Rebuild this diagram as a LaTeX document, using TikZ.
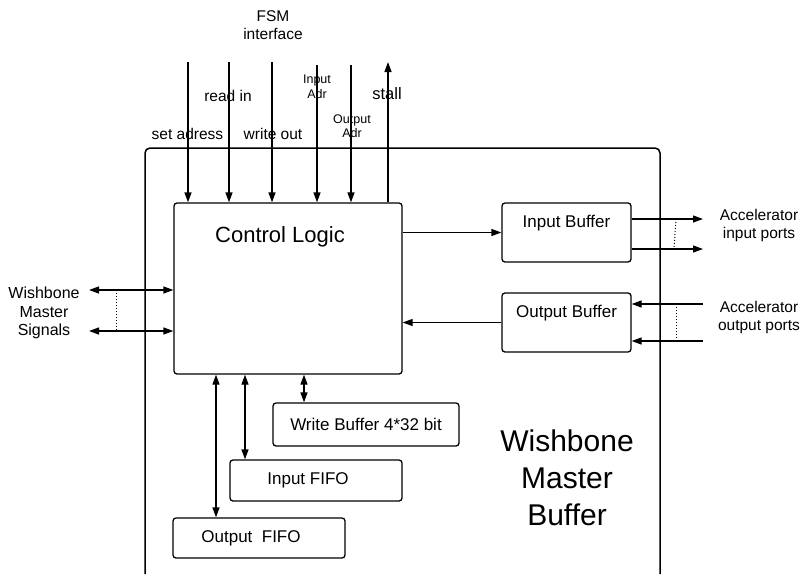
\documentclass[tikz,border=0pt]{standalone}
\usepackage{fontspec}
\setmainfont{Liberation Sans}
\usepackage{tikz}
\usetikzlibrary{positioning,arrows.meta}

\begin{document}
\begin{tikzpicture}[
  x=1pt, y=-1pt,
  blk/.style={draw, rounded corners=3pt, line width=1.3pt, inner sep=0pt},
  lbl/.style={font=\fontsize{17}{20}\selectfont, align=center},
  sig/.style={font=\fontsize{15.5}{18}\selectfont, align=center},
  tiny/.style={font=\fontsize{12.5}{14.5}\selectfont, align=center},
  arr/.style={-{Triangle[length=10pt,width=7pt]}, line width=1.3pt},
  dbl/.style={{Triangle[length=10pt,width=7pt]}-{Triangle[length=10pt,width=7pt]}, line width=1.3pt},
  dot/.style={dotted, line width=1pt}
]
  \useasboundingbox (0,0) rectangle (802,574);

  % outer buffer frame (runs off the bottom)
  \draw[line width=1.5pt, rounded corners=5pt] (145,574) |- (660,148) -- (660,574);
  \node[font=\fontsize{30}{37}\selectfont, align=center] (wmb) at (567,478) {Wishbone\\Master\\Buffer};

  % blocks
  \node[blk, minimum width=228, minimum height=171] (ctrl) at (288,288.5) {};
  \node[font=\fontsize{22}{26}\selectfont] (ctrltxt) at (280,237) {Control Logic};
  \node[blk, minimum width=129, minimum height=59,
        label={[lbl, yshift=9pt]center:Input Buffer}] (inbuf) at (566.5,232.5) {};
  \node[blk, minimum width=129, minimum height=59,
        label={[lbl, yshift=9pt]center:Output Buffer}] (outbuf) at (566.5,322.5) {};
  \node[blk, lbl, minimum width=186, minimum height=43] (wrbuf) at (366,424.5) {Write Buffer 4*32 bit};
  \node[blk, minimum width=172, minimum height=41,
        label={[lbl, xshift=-8pt]center:Input FIFO}] (infifo) at (316,480.5) {};
  \node[blk, minimum width=172, minimum height=40,
        label={[lbl, xshift=-8pt]center:Output\ \ FIFO}] (outfifo) at (259,538) {};

  % FSM interface
  \node[sig] (fsm) at (273,25) {FSM\\interface};
  \coordinate (setadr) at (188,62);
  \coordinate (readin) at (229,62);
  \coordinate (wrout) at (272,62);
  \coordinate (inadr) at (317,65);
  \coordinate (outadr) at (351,65);
  \coordinate (stall) at (388,62);
  \draw[arr] (setadr) -- (setadr |- ctrl.north);
  \draw[arr] (readin) -- (readin |- ctrl.north);
  \draw[arr] (wrout) -- (wrout |- ctrl.north);
  \draw[arr] (inadr) -- (inadr |- ctrl.north);
  \draw[arr] (outadr) -- (outadr |- ctrl.north);
  \draw[arr] (stall |- ctrl.north) -- (stall);
  \node[sig] (setadrtxt) at (187.5,134) {set adress};
  \node[sig] (readintxt) at (228,96) {read in};
  \node[sig] (wrouttxt) at (273,134) {write out};
  \node[tiny] (inadrtxt) at (317,87) {Input\\Adr};
  \node[tiny] (outadrtxt) at (352,126) {Output\\Adr};
  \node[font=\fontsize{16.5}{19}\selectfont] (stalltxt) at (387,94) {stall};

  % wishbone side
  \node[font=\fontsize{16}{18.5}\selectfont, align=center] (wbtxt) at (44,313) {Wishbone\\Master\\Signals};
  \coordinate (wb1) at (89,290);
  \coordinate (wb2) at (89,331);
  \draw[dbl] (wb1) -- (wb1 -| ctrl.west);
  \draw[dbl] (wb2) -- (wb2 -| ctrl.west);
  \draw[dot] ([xshift=27pt]wb1) -- ([xshift=27pt]wb2);

  % buffers
  \draw[arr] (ctrl.east |- inbuf.west) -- (inbuf.west);
  \draw[arr] (outbuf.west) -- (outbuf.west -| ctrl.east);

  % accelerator ports
  \coordinate (ip1) at (703,219);
  \coordinate (ip2) at (703,249);
  \draw[arr] (ip1 -| inbuf.east) -- (ip1);
  \draw[arr] (ip2 -| inbuf.east) -- (ip2);
  \draw[dot] (676,219) -- (674,249);
  \node[sig] (acctxtin) at (759,225) {Accelerator\\input ports};

  \coordinate (op1) at (703,304);
  \coordinate (op2) at (703,341);
  \draw[arr] (op1) -- (op1 -| outbuf.east);
  \draw[arr] (op2) -- (op2 -| outbuf.east);
  \draw[dot] (676,304) -- (676,341);
  \node[sig] (acctxtout) at (759,317) {Accelerator\\output ports};

  % memories
  \draw[dbl] (ctrl.south -| 216,0) -- (outfifo.north -| 216,0);
  \draw[dbl] (ctrl.south -| 245,0) -- (infifo.north -| 245,0);
  \draw[dbl] (ctrl.south -| 304,0) -- (wrbuf.north -| 304,0);
\end{tikzpicture}
\end{document}
